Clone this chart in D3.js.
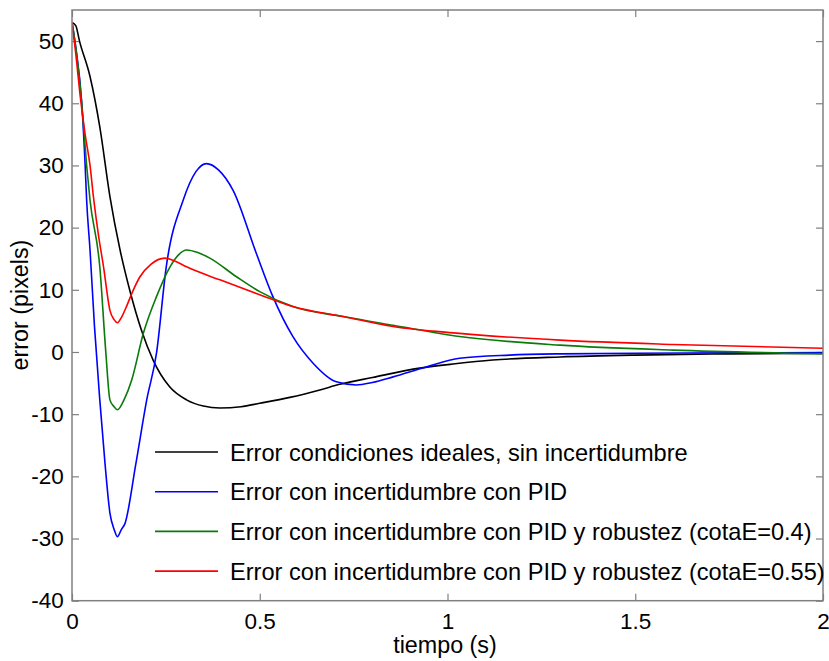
<!DOCTYPE html>
<html>
<head>
<meta charset="utf-8">
<script src="https://cdn.jsdelivr.net/npm/d3@7"></script>
<style>
  html, body { margin: 0; padding: 0; background: #fff; }
  svg { display: block; font-family: "Liberation Sans", Arial, Helvetica, sans-serif; }
</style>
</head>
<body>
<svg id="chart" width="829" height="661"></svg>
<script>
// ---- data ----
const xTicks = [0, 0.5, 1, 1.5, 2];
const xTickLabels = ["0", "0.5", "1", "1.5", "2"];
const yTicks = [-40, -30, -20, -10, 0, 10, 20, 30, 40, 50];
const yTickLabels = ["-40", "-30", "-20", "-10", "0", "10", "20", "30", "40", "50"];

const seriesNames = [
  "Error condiciones ideales, sin incertidumbre",
  "Error con incertidumbre con PID",
  "Error con incertidumbre con PID y robustez (cotaE=0.4)",
  "Error con incertidumbre con PID y robustez (cotaE=0.55)"
];
const seriesColors = ["#000000", "#0000ff", "#0a7a0a", "#ff0000"];

const tIdeal = [0, 0.01, 0.02, 0.048, 0.074, 0.101, 0.128, 0.154, 0.185, 0.216, 0.26, 0.305, 0.35, 0.394, 0.45, 0.5, 0.58, 0.66, 0.713, 0.8, 0.926, 1.02, 1.12, 1.3, 1.5, 1.75, 2];
const eIdeal = [53, 52.5, 50, 44.3, 36.2, 25, 16.4, 9.9, 3.5, -1.3, -5.6, -7.7, -8.7, -9.0, -8.8, -8.25, -7.3, -6.1, -5.2, -4.1, -2.6, -1.9, -1.3, -0.8, -0.5, -0.3, -0.2];

const tPID = [0, 0.01, 0.026, 0.035, 0.039, 0.048, 0.06, 0.074, 0.088, 0.101, 0.112, 0.121, 0.131, 0.141, 0.17, 0.199, 0.225, 0.251, 0.296, 0.33, 0.358, 0.39, 0.429, 0.49, 0.535, 0.588, 0.642, 0.704, 0.757, 0.8, 0.855, 0.943, 1.032, 1.165, 1.3, 1.5, 1.75, 2];
const ePID = [53, 49, 40, 30, 24.4, 16.4, 4, -7.7, -18, -25.9, -28.5, -29.7, -28.6, -27.6, -18, -7.7, -0.2, 13.7, 24.4, 29, 30.3, 29.3, 26, 16, 8.9, 2.5, -1.8, -4.8, -5.3, -4.9, -4.0, -2.4, -1.0, -0.5, -0.3, -0.2, -0.15, -0.1];

const tRob04 = [0, 0.01, 0.026, 0.039, 0.048, 0.074, 0.09, 0.101, 0.112, 0.121, 0.14, 0.159, 0.19, 0.225, 0.261, 0.285, 0.305, 0.335, 0.367, 0.438, 0.5, 0.588, 0.722, 0.855, 1.032, 1.3, 1.6, 2];
const eRob04 = [53, 49, 40, 30, 24.4, 13.7, 0, -7.7, -8.8, -9.3, -7.5, -4.5, 3, 8.9, 13.7, 15.7, 16.4, 16.0, 15.1, 12.1, 9.7, 7.3, 5.7, 4.3, 2.5, 1.1, 0.3, -0.3];

const tRob055 = [0, 0.01, 0.021, 0.035, 0.048, 0.057, 0.07, 0.084, 0.101, 0.112, 0.121, 0.132, 0.145, 0.162, 0.181, 0.21, 0.247, 0.275, 0.305, 0.394, 0.5, 0.588, 0.722, 0.855, 1.032, 1.3, 1.6, 2];
const eRob055 = [53, 48, 41.6, 35, 30, 25, 19, 13.7, 6.7, 5.2, 4.7, 5.6, 7.3, 9.8, 12.1, 14.1, 15.1, 14.6, 13.7, 11.6, 9.2, 7.3, 5.7, 4.1, 3.0, 1.9, 1.2, 0.6];

const xLabel = "tiempo (s)";
const yLabel = "error (pixels)";

// ---- drawing ----
const svg = d3.select("#chart");
const L = 72, R = 823, T = 10, B = 600.7;
const x = d3.scaleLinear().domain([0, 2]).range([L, R]);
const y = d3.scaleLinear().domain([-40, 55]).range([B, T]);

const series = [
  {t: tIdeal, e: eIdeal},
  {t: tPID, e: ePID},
  {t: tRob04, e: eRob04},
  {t: tRob055, e: eRob055}
].map((s, i) => ({
  name: seriesNames[i], color: seriesColors[i],
  pts: s.t.map((tt, j) => [tt, s.e[j]])
}));

const frameColor = "#808080";
const tickLen = 7;

svg.append("defs").append("clipPath").attr("id", "clip")
  .append("rect").attr("x", L).attr("y", T).attr("width", R - L).attr("height", B - T);

const fmtX = (d) => xTickLabels[xTicks.indexOf(d)];
const fmtY = (d) => yTickLabels[yTicks.indexOf(d)];

const xAxis = svg.append("g").attr("transform", `translate(0,${B})`)
  .call(d3.axisBottom(x).tickValues(xTicks).tickFormat(fmtX).tickSizeInner(-tickLen).tickSizeOuter(0).tickPadding(12));
const xAxisTop = svg.append("g").attr("transform", `translate(0,${T})`)
  .call(d3.axisTop(x).tickValues(xTicks).tickFormat("").tickSizeInner(-tickLen).tickSizeOuter(0));
const yAxis = svg.append("g").attr("transform", `translate(${L},0)`)
  .call(d3.axisLeft(y).tickValues(yTicks).tickFormat(fmtY).tickSizeInner(-tickLen).tickSizeOuter(0).tickPadding(6));
const yAxisR = svg.append("g").attr("transform", `translate(${R},0)`)
  .call(d3.axisRight(y).tickValues(yTicks).tickFormat("").tickSizeInner(-tickLen).tickSizeOuter(0));

[xAxis, xAxisTop, yAxis, yAxisR].forEach(g => {
  g.select(".domain").remove();
  g.selectAll(".tick line").attr("stroke", frameColor).attr("stroke-width", 1.2);
  g.selectAll(".tick text").attr("fill", "#000").style("font-size", "22.5px")
    .style("font-family", '"Liberation Sans", Arial, sans-serif');
});
yAxis.selectAll(".tick text").attr("dx", "-0.1em");

// curves
const line = d3.line().x(d => x(d[0])).y(d => y(d[1])).curve(d3.curveMonotoneX);
svg.append("g").attr("clip-path", "url(#clip)")
  .selectAll("path").data(series).join("path")
  .attr("d", d => line(d.pts))
  .attr("fill", "none")
  .attr("stroke", d => d.color)
  .attr("stroke-width", 1.6)
  .attr("stroke-linejoin", "round");

// frame
svg.append("rect").attr("x", L).attr("y", T).attr("width", R - L).attr("height", B - T)
  .attr("fill", "none").attr("stroke", frameColor).attr("stroke-width", 1.5);

// legend
const legY0 = 452, legDy = 39.7, legX1 = 155, legX2 = 218, legTx = 230;
const leg = svg.append("g").selectAll("g").data(series).join("g")
  .attr("transform", (d, i) => `translate(0,${legY0 + i * legDy})`);
leg.append("line").attr("x1", legX1).attr("x2", legX2).attr("y1", 0).attr("y2", 0)
  .attr("stroke", d => d.color).attr("stroke-width", 1.6);
leg.append("text").attr("x", legTx).attr("y", 8.5)
  .style("font-size", "23.6px").attr("fill", "#000").text(d => d.name);

// axis labels
svg.append("text").attr("x", 445).attr("y", 653).attr("text-anchor", "middle")
  .style("font-size", "23.3px").attr("fill", "#000").text(xLabel);
svg.append("text").attr("transform", `translate(28,305) rotate(-90)`).attr("text-anchor", "middle")
  .style("font-size", "23.3px").attr("fill", "#000").text(yLabel);
</script>
</body>
</html>
